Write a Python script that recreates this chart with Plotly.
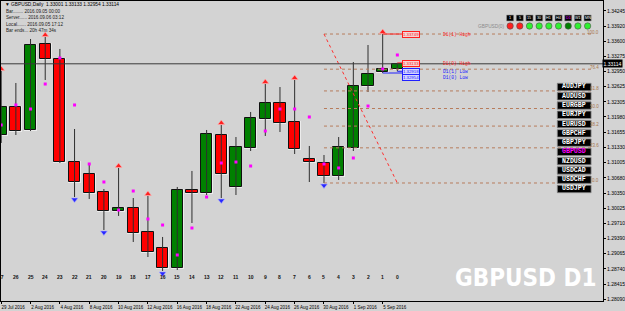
import plotly.graph_objects as go

# ---------------- data ----------------
symbol = "GBPUSD"
bar_numbers = list(range(27, -1, -1))          # MT4 bar shift, left -> right
bar_dates = ["29 Jul 2016", "1 Aug 2016", "2 Aug 2016", "3 Aug 2016", "4 Aug 2016", "5 Aug 2016",
             "8 Aug 2016", "9 Aug 2016", "10 Aug 2016", "11 Aug 2016", "12 Aug 2016", "15 Aug 2016",
             "16 Aug 2016", "17 Aug 2016", "18 Aug 2016", "19 Aug 2016", "22 Aug 2016", "23 Aug 2016",
             "24 Aug 2016", "25 Aug 2016", "26 Aug 2016", "29 Aug 2016", "30 Aug 2016", "31 Aug 2016",
             "1 Sep 2016", "2 Sep 2016", "5 Sep 2016", "6 Sep 2016"]
opens = [1.31596, 1.32193, 1.31703, 1.33536, 1.33216, 1.31020, 1.30766, 1.30381, 1.29976, 1.30040,
         1.29528, 1.29187, 1.28761, 1.30424, 1.30360, 1.31596, 1.30488, 1.31319, 1.31937, 1.32278,
         1.31873, 1.31084, 1.30999, 1.30723, 1.31319, 1.32641, 1.32939, 1.33001]
highs = [1.32961, 1.32705, 1.33643, 1.33685, 1.33430, 1.31724, 1.30957, 1.30445, 1.30893, 1.30253,
         1.30296, 1.29422, 1.30488, 1.30829, 1.31703, 1.31809, 1.31553, 1.32087, 1.32683, 1.32619,
         1.32769, 1.31362, 1.31170, 1.31553, 1.33152, 1.33515, 1.33749, 1.33133]
lows = [1.31426, 1.31596, 1.31681, 1.32769, 1.30999, 1.30274, 1.30232, 1.29571, 1.29870, 1.29315,
        1.28995, 1.28697, 1.28718, 1.29720, 1.30317, 1.30253, 1.30317, 1.31255, 1.31575, 1.31660,
        1.31191, 1.30594, 1.30573, 1.30637, 1.31255, 1.32513, 1.32918, 1.32954]
closes = [1.32193, 1.31681, 1.33515, 1.33216, 1.31020, 1.30594, 1.30360, 1.29976, 1.30040, 1.29507,
          1.29102, 1.28761, 1.30424, 1.30360, 1.31617, 1.30766, 1.31340, 1.31959, 1.32278, 1.31852,
          1.31298, 1.31020, 1.30723, 1.31340, 1.32641, 1.32897, 1.33003, 1.33114]
magenta_dots = [1.31809, 1.32236, 1.32150, 1.32683, 1.33238, 1.32236, 1.30978, 1.30594, 1.29997, 1.30402,
                1.29805, 1.29677, 1.29038, 1.29613, 1.30274, 1.30999, 1.31020, 1.30935, 1.31681, 1.32150,
                1.32150, 1.31980, 1.30978, 1.30893, 1.31106, 1.32214, 1.33003, 1.33302]
up_fractal_bars = [27, 24, 19, 17, 12, 9, 7, 1]
down_fractal_bars = [22, 20, 16, 12, 5]
fib_levels = [0.0, 23.6, 38.2, 50.0, 61.8, 76.4, 100.0]
fib_anchor_bars = [5, 0]          # time anchors (start, end) of the retracement
fib_high_bar, fib_low_bar = 1, 5  # bars giving the 100 % and 0 % prices
price_ticks = [1.34245, 1.33920, 1.33600, 1.33275, 1.32950, 1.32625, 1.32305, 1.31980, 1.31655, 1.31330,
               1.31005, 1.30680, 1.30350, 1.30025, 1.29710, 1.29390, 1.29065, 1.28740, 1.28415, 1.28090]
symbol_buttons = ["AUDJPY", "AUDUSD", "EURGBP", "EURJPY", "EURUSD", "GBPCHF",
                  "GBPJPY", "GBPUSD", "NZDUSD", "USDCAD", "USDCHF", "USDJPY"]
timeframes = ["1", "5", "15", "30", "H1", "H4", "D1", "W1", "MN"]
tf_status = ["down", "down", "up", "up", "up", "up", "cur", "up", "up"]
info_lines = ["Bar........ 2016.09.05 00:00", "Server...... 2016.09.06 03:12",
              "Local....... 2016.09.05 17:12", "Bar ends... 20h 47m 34s"]

# ---------------- geometry helpers ----------------
W, H = 625, 311
PL, PR, PT, PB = 0, 606, 1, 301
X_MIN, X_MAX = -0.0135, 41.016
Y_MIN, Y_MAX = 1.28057, 1.34453
per_px = (Y_MAX - Y_MIN) / (PB - PT)
bar_px = (PR - PL) / (X_MAX - X_MIN)


def PX(x):
    return (x - PL) / (PR - PL)


def PY(y):
    return (PB - y) / (PB - PT)


def XD(x):  # pixel -> x data
    return X_MIN + (x - PL) / bar_px


pos = [bar_numbers[0] - b for b in bar_numbers]
idx = {b: k for k, b in enumerate(bar_numbers)}

BG = "#D3D3D3"
GREEN, RED = "#008000", "#FF0000"
FIBC = "#B77C5C"

fig = go.Figure()

# candle halo
base = [min(o, c) for o, c in zip(opens, closes)]
hgt = [max(abs(c - o), per_px) for o, c in zip(opens, closes)]
fig.add_trace(go.Bar(x=pos, y=[h + 2 * per_px for h in hgt], base=[b - per_px for b in base],
                     width=0.88, marker=dict(color="#ECECEC", line=dict(width=0)), hoverinfo="skip"))
# wicks
wx, wy = [], []
for p, hi, lo in zip(pos, highs, lows):
    wx += [p, p, None]
    wy += [lo, hi, None]
fig.add_trace(go.Scatter(x=wx, y=wy, mode="lines", line=dict(color="#2E2E2E", width=1), hoverinfo="skip"))
# bodies
cols = [GREEN if c >= o else RED for o, c in zip(opens, closes)]
fig.add_trace(go.Bar(x=pos, y=hgt, base=base, width=0.76,
                     marker=dict(color=cols, line=dict(color="#101010", width=1))))

# fibonacci retracement
f_hi = highs[idx[fib_high_bar]]
f_lo = lows[idx[fib_low_bar]]
x_start = pos[idx[fib_anchor_bars[0]]]
x_end = pos[idx[fib_anchor_bars[1]]]
ray_end = XD(595)
for lv in fib_levels:
    yv = f_lo + lv / 100 * (f_hi - f_lo)
    fig.add_trace(go.Scatter(x=[x_start, ray_end], y=[yv, yv], mode="lines",
                             line=dict(color=FIBC, width=1, dash="dot"), hoverinfo="skip"))
    fig.add_annotation(x=PX(604), xref="paper", y=yv, yref="y", text=f"{lv:.1f}", showarrow=False,
                       xanchor="right", yanchor="middle", yshift=2,
                       font=dict(size=4.5, color="#A8774F", family="Liberation Sans"))
fig.add_trace(go.Scatter(x=[x_start, x_end], y=[f_hi, f_lo], mode="lines",
                         line=dict(color="#FF3030", width=1, dash="dot"), hoverinfo="skip"))

# magenta dots
fig.add_trace(go.Scatter(x=pos, y=magenta_dots, mode="markers",
                         marker=dict(symbol="square", size=3, color="#FF00FF"), hoverinfo="skip"))
# fractals
fig.add_trace(go.Scatter(x=[pos[idx[b]] for b in up_fractal_bars],
                         y=[highs[idx[b]] + 2 * per_px for b in up_fractal_bars], mode="markers",
                         marker=dict(symbol="triangle-up", size=6, color="#FF2020",
                                     line=dict(color="#FFB0B0", width=0.6)), hoverinfo="skip"))
fig.add_trace(go.Scatter(x=[pos[idx[b]] for b in down_fractal_bars],
                         y=[lows[idx[b]] - 2.5 * per_px for b in down_fractal_bars], mode="markers",
                         marker=dict(symbol="triangle-down", size=6, color="#2828FF",
                                     line=dict(color="#B0B0FF", width=0.6)), hoverinfo="skip"))

# D1 levels
lbl_x = XD(404)
d1 = [("D1(1) High", highs[idx[1]], pos[idx[1]], "#FF2020", "#F4D4D4", 0),
      ("D1(0) High", highs[idx[0]], pos[idx[0]], "#FF2020", "#F4D4D4", -1),
      ("D1(1) Low", lows[idx[1]], pos[idx[1]], "#2020FF", "#D4D4FF", 2),
      ("D1(0) Low", lows[idx[0]], pos[idx[0]], "#2020FF", "#D4D4FF", -6)]
for name, pr, px0, col, bgc, ys in d1:
    fig.add_trace(go.Scatter(x=[px0, lbl_x], y=[pr, pr], mode="lines",
                             line=dict(color=col, width=1), hoverinfo="skip"))
    fig.add_annotation(x=lbl_x, y=pr, xref="x", yref="y", text=f"{pr:.5f}", showarrow=False,
                       xanchor="left", yanchor="middle", yshift=ys, bgcolor=bgc, bordercolor=col,
                       borderwidth=1, borderpad=0, font=dict(size=4.3, color=col, family="Liberation Sans"))
    fig.add_annotation(x=XD(443), y=pr, xref="x", yref="y", text=name, showarrow=False,
                       xanchor="left", yanchor="middle", yshift=ys,
                       font=dict(size=4.6, color=col, family="Liberation Mono"))

# bid line
cur = closes[-1]
fig.add_shape(type="line", xref="paper", x0=0, x1=1, yref="y", y0=cur, y1=cur,
              line=dict(color="#3A3A3A", width=1))
fig.add_annotation(x=PX(615.5), xref="paper", y=cur, yref="y", text=f"{cur:.5f}", showarrow=False,
                   xanchor="center", yanchor="middle",
                   bgcolor="#000000", font=dict(size=5, color="white", family="Liberation Sans"),
                   borderpad=0.5)

# bar number labels
for p, b in zip(pos, bar_numbers):
    fig.add_annotation(x=p, xref="x", y=PY(277), yref="paper", text=f"<b>{b}</b>", showarrow=False,
                       xanchor="center", yanchor="middle",
                       font=dict(size=5, color="#111111", family="Liberation Sans"))

# header text
fig.add_annotation(x=PX(2), y=PY(5), xref="paper", yref="paper", xanchor="left", yanchor="middle",
                   showarrow=False,
                   text=f"▼ {symbol},Daily  {opens[-1]:.5f} {highs[-1]:.5f} {lows[-1]:.5f} {closes[-1]:.5f}",
                   font=dict(size=4.8, color="#000000", family="Liberation Sans"))
for k, t in enumerate(info_lines):
    fig.add_annotation(x=PX(3), y=PY(12 + 6 * k), xref="paper", yref="paper", xanchor="left",
                       yanchor="middle", showarrow=False, text=t,
                       font=dict(size=4.6, color="#222222", family="Liberation Sans"))

# timeframe panel
fig.add_annotation(x=PX(509), y=PY(26), xref="paper", yref="paper", xanchor="right", yanchor="middle",
                   showarrow=False, text=f"{symbol}(0)",
                   font=dict(size=4.8, color="#8C8C8C", family="Liberation Sans"))
stat_col = {"down": "#FF2020", "up": "#30F030", "cur": "#008000"}
for k, (tf, st) in enumerate(zip(timeframes, tf_status)):
    cx = 512.5 + 9.75 * k
    fig.add_shape(type="rect", xref="paper", yref="paper", x0=PX(cx - 3.6), x1=PX(cx + 3.6),
                  y0=PY(21), y1=PY(15), fillcolor="#000000", line=dict(color="#9A9A9A", width=0.6))
    fig.add_annotation(x=PX(cx), y=PY(18), xref="paper", yref="paper", text=tf, showarrow=False,
                       xanchor="center", yanchor="middle",
                       font=dict(size=3.8, color="#FF00FF" if st == "cur" else "white",
                                 family="Liberation Sans"))
    fig.add_shape(type="circle", xref="paper", yref="paper", x0=PX(cx - 3.2), x1=PX(cx + 3.2),
                  y0=PY(29.2), y1=PY(22.8), fillcolor=stat_col[st], line=dict(color="#505050", width=0.6))

# symbol buttons
for k, s in enumerate(symbol_buttons):
    cy = 87 + 9.27 * k
    fig.add_shape(type="rect", xref="paper", yref="paper", x0=PX(560), x1=PX(594),
                  y0=PY(cy + 3.7), y1=PY(cy - 3.7), fillcolor="#000000", line=dict(color="#8A8A8A", width=0.8))
    fig.add_annotation(x=PX(577), y=PY(cy), xref="paper", yref="paper", text=f"<b>{s}</b>", showarrow=False,
                       xanchor="center", yanchor="middle",
                       font=dict(size=6.6, color="#FF00FF" if s == symbol else "white",
                                 family="Liberation Mono"))

# watermark
fig.add_annotation(x=PX(528), y=PY(278), xref="paper", yref="paper", text="<b>GBPUSD D1</b>", showarrow=False,
                   xanchor="center", yanchor="middle",
                   font=dict(size=24, color="white",
                             family="Liberation Sans Narrow, DejaVu Sans Condensed, Arial Narrow, Liberation Sans"))

# axes
date_bars = bar_numbers[0::2]
fig.update_xaxes(range=[X_MIN, X_MAX], showgrid=False, zeroline=False, showline=True, mirror=True,
                 linecolor="#000000", linewidth=1,
                 tickvals=[pos[idx[b]] for b in date_bars], ticktext=[bar_dates[idx[b]] for b in date_bars],
                 ticks="outside", ticklen=2, tickcolor="#000000", ticklabelshift=12,
                 tickfont=dict(size=4.5, color="#000000", family="Liberation Sans"))
fig.update_yaxes(range=[Y_MIN, Y_MAX], side="right", showgrid=False, zeroline=False, showline=True,
                 mirror=True, linecolor="#000000", linewidth=1,
                 tickvals=price_ticks, ticktext=[f"{v:.5f}" for v in price_ticks],
                 ticks="outside", ticklen=2, tickcolor="#000000",
                 tickfont=dict(size=5, color="#000000", family="Liberation Sans"))
fig.update_layout(width=W, height=H, margin=dict(l=PL, r=W - PR, t=PT, b=H - PB, pad=0),
                  paper_bgcolor=BG, plot_bgcolor=BG, showlegend=False, barmode="overlay", bargap=0)

fig.write_html("out.html")
